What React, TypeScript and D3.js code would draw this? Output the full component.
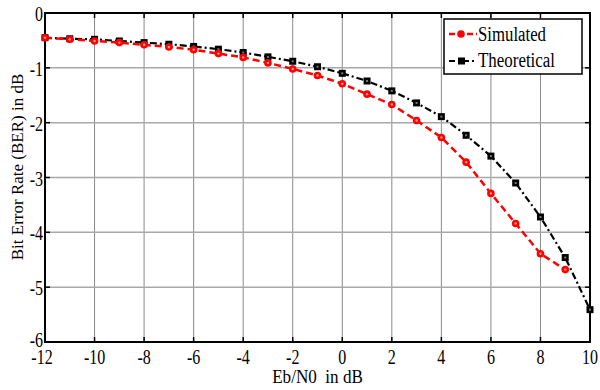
import * as d3 from "d3";

const snr = [-12, -11, -10, -9, -8, -7, -6, -5, -4, -3, -2, -1, 0, 1, 2, 3, 4, 5, 6, 7, 8, 9, 10];
const simulated = [-0.45, -0.48, -0.51, -0.54, -0.58, -0.62, -0.67, -0.74, -0.81, -0.91, -1.02, -1.14, -1.29, -1.48, -1.67, -1.96, -2.27, -2.72, -3.29, -3.84, -4.39, -4.68];
const theoretical = [-0.45, -0.47, -0.48, -0.51, -0.54, -0.57, -0.61, -0.66, -0.72, -0.8, -0.88, -0.98, -1.1, -1.24, -1.42, -1.64, -1.89, -2.23, -2.61, -3.1, -3.72, -4.46, -5.41];
const xTicks = [-12, -10, -8, -6, -4, -2, 0, 2, 4, 6, 8, 10];
const yTicks = [0, -1, -2, -3, -4, -5, -6];

const W = 600;
const H = 390;
const m = { left: 45, right: 10, top: 13, bottom: 48 };
const txt = { fontFamily: "Liberation Serif, DejaVu Serif, serif" };
const SX = 0.8; // the source figure is squeezed horizontally

export default function App() {
  const x = d3.scaleLinear().domain([-12, 10]).range([m.left, W - m.right]);
  const y = d3.scaleLinear().domain([-6, 0]).range([H - m.bottom, m.top]);
  const [x0, x1] = x.range();
  const [y0, y1] = y.range();

  const simPts: [number, number][] = simulated.map((v, i) => [snr[i], v]);
  const theoPts: [number, number][] = theoretical.map((v, i) => [snr[i], v]);
  const line = d3
    .line<[number, number]>()
    .x((d) => x(d[0]))
    .y((d) => y(d[1]));

  return (
    <svg width={W} height={H} style={{ position: "absolute", left: 0, top: 0, background: "#fff" }}>
      {/* grid */}
      {xTicks.map((t) => (
        <line key={"gx" + t} x1={x(t)} x2={x(t)} y1={y0} y2={y1} stroke="#8a8a8a" strokeWidth={1} />
      ))}
      {yTicks.map((t) => (
        <line key={"gy" + t} x1={x0} x2={x1} y1={y(t)} y2={y(t)} stroke="#a8a8a8" strokeWidth={1.5} />
      ))}
      {/* ticks inward */}
      {xTicks.map((t) => (
        <g key={"tx" + t}>
          <line x1={x(t)} x2={x(t)} y1={y0} y2={y0 - 5} stroke="#000" strokeWidth={1.5} />
          <line x1={x(t)} x2={x(t)} y1={y1} y2={y1 + 5} stroke="#000" strokeWidth={1.5} />
          <text
            transform={`translate(${x(t) - (t === -12 ? 3 : 0)},${y0 + 22}) scale(${SX},1)`}
            fontSize={20}
            textAnchor="middle"
            fill="#000"
            style={txt}
          >
            {t}
          </text>
        </g>
      ))}
      {yTicks.map((t) => (
        <g key={"ty" + t}>
          <line x1={x0} x2={x0 + 5} y1={y(t)} y2={y(t)} stroke="#000" strokeWidth={1.5} />
          <line x1={x1} x2={x1 - 5} y1={y(t)} y2={y(t)} stroke="#000" strokeWidth={1.5} />
          <text
            transform={`translate(${x0 - 2},${y(t) + (t === -6 ? 5 : 8)}) scale(${SX},1)`}
            fontSize={20}
            textAnchor="end"
            fill="#000"
            style={txt}
          >
            {t}
          </text>
        </g>
      ))}
      {/* frame */}
      <rect x={x0} y={y1} width={x1 - x0} height={y0 - y1} fill="none" stroke="#000" strokeWidth={2} />

      {/* series */}
      <path d={line(theoPts) || ""} fill="none" stroke="#000" strokeWidth={2.2} strokeDasharray="7 3 2 3" />
      <path d={line(simPts) || ""} fill="none" stroke="#ff0000" strokeWidth={2.5} strokeDasharray="7 4" />
      {theoPts.map((d, i) => (
        <g key={"tp" + i}>
          <rect x={x(d[0]) - 3.5} y={y(d[1]) - 3.5} width={7} height={7} fill="#000" />
          <rect x={x(d[0]) - 1} y={y(d[1]) - 1} width={2} height={2} fill="#777" />
        </g>
      ))}
      {simPts.map((d, i) => (
        <g key={"sp" + i}>
          <circle cx={x(d[0])} cy={y(d[1])} r={3.8} fill="#ff0000" />
          <circle cx={x(d[0])} cy={y(d[1])} r={1.2} fill="#ff9a9a" />
        </g>
      ))}

      {/* legend */}
      <g>
        <rect x={444} y={19} width={138} height={55} fill="#fff" stroke="#000" strokeWidth={1.5} />
        <line x1={449} x2={477} y1={34} y2={34} stroke="#ff0000" strokeWidth={2.5} strokeDasharray="6 3" />
        <circle cx={461} cy={34} r={3.8} fill="#ff0000" />
        <text x={478} y={41} fontSize={20} fill="#000" style={txt} textLength={68} lengthAdjust="spacingAndGlyphs">
          Simulated
        </text>
        <line x1={449} x2={477} y1={61} y2={61} stroke="#000" strokeWidth={2.2} strokeDasharray="6 3 2 3" />
        <rect x={458} y={57.5} width={7} height={7} fill="#000" />
        <text x={478} y={67} fontSize={20} fill="#000" style={txt} textLength={77} lengthAdjust="spacingAndGlyphs">
          Theoretical
        </text>
      </g>

      {/* axis titles */}
      <text
        transform={`translate(${(x0 + x1) / 2},383) scale(0.9,1)`}
        fontSize={19}
        textAnchor="middle"
        fill="#000"
        style={{ ...txt, whiteSpace: "pre" }}
      >
        {"Eb/N0  in dB"}
      </text>
      <text
        transform={`translate(23,167) rotate(-90)`}
        fontSize={17}
        textAnchor="middle"
        fill="#000"
        style={txt}
      >
        Bit Error Rate (BER) in dB
      </text>
    </svg>
  );
}
